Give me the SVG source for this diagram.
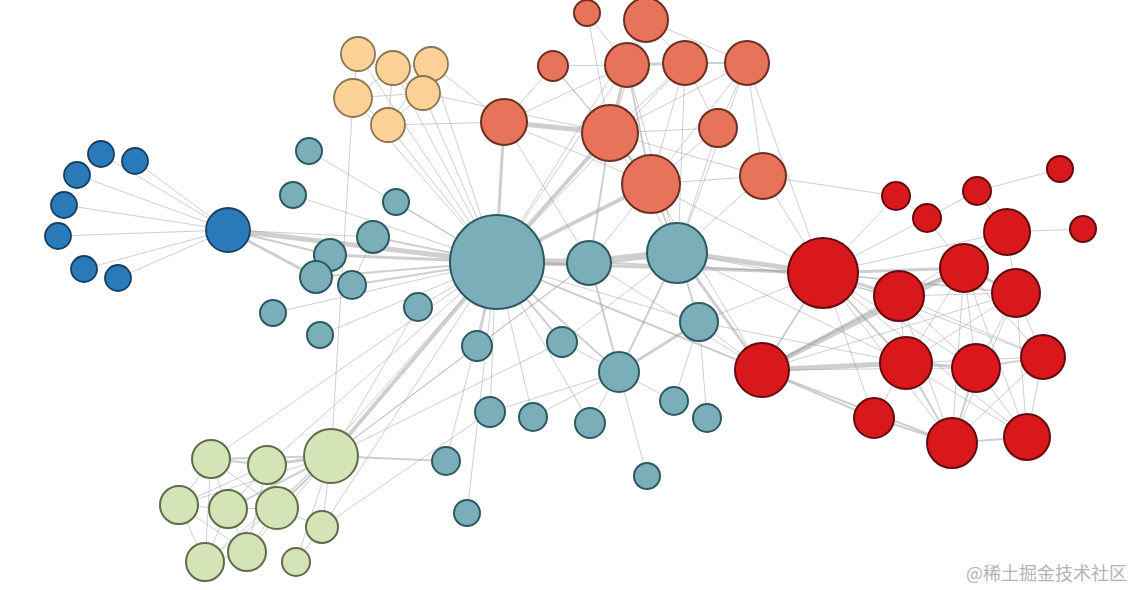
<svg xmlns="http://www.w3.org/2000/svg" width="1134" height="590" viewBox="0 0 1134 590">
<style>
.e{stroke:#9a9a9a;stroke-opacity:.48;fill:none;stroke-linecap:round}
.w1{stroke-width:1}.w2{stroke-width:2}.w3{stroke-width:3}.w4{stroke-width:4}.w5{stroke-width:5}.w7{stroke-width:7}
.bl{fill:#2a7ab9;stroke:#163f62;stroke-width:1.8}
.tn{fill:#fcd197;stroke:#8c7552;stroke-width:1.8}
.sa{fill:#e8735b;stroke:#6e2e22;stroke-width:2}
.te{fill:#7aafba;stroke:#2c5962;stroke-width:2}
.gr{fill:#d4e4b6;stroke:#5f6d4a;stroke-width:2}
.rd{fill:#d8181b;stroke:#640b0d;stroke-width:2}
.wm{font-family:"Noto Sans CJK SC","Noto Sans",sans-serif;font-size:18px;fill:#b4b4b4}
</style>
<rect width="1134" height="590" fill="#fff"/>
<g id="connectors">
<line class="e w1" x1="228" y1="230" x2="101" y2="154"/>
<line class="e w1" x1="228" y1="230" x2="135" y2="161"/>
<line class="e w1" x1="228" y1="230" x2="77" y2="175"/>
<line class="e w1" x1="228" y1="230" x2="64" y2="205"/>
<line class="e w1" x1="228" y1="230" x2="58" y2="236"/>
<line class="e w1" x1="228" y1="230" x2="84" y2="269"/>
<line class="e w1" x1="228" y1="230" x2="118" y2="278"/>
<line class="e w5" x1="228" y1="230" x2="496" y2="262"/>
<line class="e w3" x1="228" y1="230" x2="316" y2="277"/>
<line class="e w2" x1="228" y1="230" x2="330" y2="255"/>
<line class="e w1" x1="228" y1="230" x2="373" y2="237"/>
<line class="e w1" x1="358" y1="54" x2="393" y2="68"/>
<line class="e w1" x1="358" y1="54" x2="353" y2="98"/>
<line class="e w1" x1="358" y1="54" x2="423" y2="93"/>
<line class="e w1" x1="393" y1="68" x2="431" y2="64"/>
<line class="e w1" x1="393" y1="68" x2="423" y2="93"/>
<line class="e w1" x1="393" y1="68" x2="353" y2="98"/>
<line class="e w1" x1="393" y1="68" x2="388" y2="125"/>
<line class="e w1" x1="431" y1="64" x2="423" y2="93"/>
<line class="e w1" x1="431" y1="64" x2="388" y2="125"/>
<line class="e w1" x1="353" y1="98" x2="388" y2="125"/>
<line class="e w1" x1="353" y1="98" x2="423" y2="93"/>
<line class="e w1" x1="423" y1="93" x2="388" y2="125"/>
<line class="e w1" x1="358" y1="54" x2="496" y2="262"/>
<line class="e w1" x1="393" y1="68" x2="496" y2="262"/>
<line class="e w1" x1="431" y1="64" x2="496" y2="262"/>
<line class="e w1" x1="353" y1="98" x2="496" y2="262"/>
<line class="e w1" x1="423" y1="93" x2="496" y2="262"/>
<line class="e w1" x1="388" y1="125" x2="496" y2="262"/>
<line class="e w1" x1="353" y1="98" x2="331" y2="456"/>
<line class="e w1" x1="431" y1="64" x2="504" y2="122"/>
<line class="e w1" x1="423" y1="93" x2="610" y2="133"/>
<line class="e w1" x1="388" y1="125" x2="504" y2="122"/>
<line class="e w1" x1="309" y1="151" x2="496" y2="262"/>
<line class="e w1" x1="293" y1="195" x2="496" y2="262"/>
<line class="e w1" x1="396" y1="202" x2="496" y2="262"/>
<line class="e w2" x1="373" y1="237" x2="496" y2="262"/>
<line class="e w3" x1="330" y1="255" x2="496" y2="262"/>
<line class="e w2" x1="316" y1="277" x2="496" y2="262"/>
<line class="e w2" x1="352" y1="285" x2="496" y2="262"/>
<line class="e w1" x1="330" y1="255" x2="316" y2="277"/>
<line class="e w1" x1="373" y1="237" x2="352" y2="285"/>
<line class="e w1" x1="273" y1="313" x2="496" y2="262"/>
<line class="e w1" x1="320" y1="335" x2="496" y2="262"/>
<line class="e w1" x1="418" y1="307" x2="496" y2="262"/>
<line class="e w2" x1="477" y1="346" x2="496" y2="262"/>
<line class="e w2" x1="562" y1="342" x2="496" y2="262"/>
<line class="e w1" x1="490" y1="412" x2="496" y2="262"/>
<line class="e w1" x1="533" y1="417" x2="496" y2="262"/>
<line class="e w1" x1="590" y1="423" x2="496" y2="262"/>
<line class="e w2" x1="619" y1="372" x2="496" y2="262"/>
<line class="e w1" x1="446" y1="461" x2="496" y2="262"/>
<line class="e w1" x1="467" y1="513" x2="496" y2="262"/>
<line class="e w1" x1="647" y1="476" x2="619" y2="372"/>
<line class="e w1" x1="674" y1="401" x2="619" y2="372"/>
<line class="e w1" x1="707" y1="418" x2="699" y2="322"/>
<line class="e w1" x1="674" y1="401" x2="699" y2="322"/>
<line class="e w1" x1="562" y1="342" x2="619" y2="372"/>
<line class="e w1" x1="590" y1="423" x2="619" y2="372"/>
<line class="e w1" x1="533" y1="417" x2="619" y2="372"/>
<line class="e w1" x1="490" y1="412" x2="619" y2="372"/>
<line class="e w2" x1="619" y1="372" x2="590" y2="262"/>
<line class="e w3" x1="619" y1="372" x2="699" y2="322"/>
<line class="e w2" x1="619" y1="372" x2="678" y2="252"/>
<line class="e w2" x1="699" y1="322" x2="678" y2="252"/>
<line class="e w1" x1="699" y1="322" x2="496" y2="262"/>
<line class="e w1" x1="699" y1="322" x2="762" y2="370"/>
<line class="e w1" x1="699" y1="322" x2="823" y2="273"/>
<line class="e w7" x1="496" y1="262" x2="590" y2="262"/>
<line class="e w7" x1="590" y1="262" x2="678" y2="252"/>
<line class="e w5" x1="678" y1="252" x2="823" y2="273"/>
<line class="e w3" x1="678" y1="252" x2="762" y2="370"/>
<line class="e w3" x1="496" y1="262" x2="823" y2="273"/>
<line class="e w2" x1="496" y1="262" x2="762" y2="370"/>
<line class="e w2" x1="590" y1="262" x2="823" y2="273"/>
<line class="e w1" x1="590" y1="262" x2="762" y2="370"/>
<line class="e w1" x1="562" y1="342" x2="678" y2="252"/>
<line class="e w1" x1="477" y1="346" x2="590" y2="262"/>
<line class="e w1" x1="678" y1="252" x2="899" y2="296"/>
<line class="e w1" x1="678" y1="252" x2="906" y2="363"/>
<line class="e w1" x1="699" y1="322" x2="906" y2="363"/>
<line class="e w4" x1="496" y1="262" x2="331" y2="456"/>
<line class="e w2" x1="331" y1="456" x2="446" y2="461"/>
<line class="e w1" x1="331" y1="456" x2="418" y2="307"/>
<line class="e w1" x1="331" y1="456" x2="477" y2="346"/>
<line class="e w1" x1="331" y1="456" x2="590" y2="262"/>
<line class="e w1" x1="331" y1="456" x2="562" y2="342"/>
<line class="e w1" x1="267" y1="465" x2="496" y2="262"/>
<line class="e w1" x1="277" y1="508" x2="496" y2="262"/>
<line class="e w1" x1="322" y1="527" x2="496" y2="262"/>
<line class="e w1" x1="322" y1="527" x2="490" y2="412"/>
<line class="e w1" x1="296" y1="562" x2="322" y2="527"/>
<line class="e w1" x1="211" y1="459" x2="496" y2="262"/>
<line class="e w2" x1="331" y1="456" x2="211" y2="459"/>
<line class="e w3" x1="331" y1="456" x2="267" y2="465"/>
<line class="e w2" x1="331" y1="456" x2="228" y2="509"/>
<line class="e w2" x1="331" y1="456" x2="277" y2="508"/>
<line class="e w1" x1="331" y1="456" x2="179" y2="505"/>
<line class="e w1" x1="331" y1="456" x2="322" y2="527"/>
<line class="e w1" x1="331" y1="456" x2="205" y2="562"/>
<line class="e w1" x1="331" y1="456" x2="247" y2="552"/>
<line class="e w1" x1="331" y1="456" x2="296" y2="562"/>
<line class="e w2" x1="211" y1="459" x2="267" y2="465"/>
<line class="e w1" x1="211" y1="459" x2="179" y2="505"/>
<line class="e w1" x1="211" y1="459" x2="228" y2="509"/>
<line class="e w1" x1="211" y1="459" x2="277" y2="508"/>
<line class="e w1" x1="211" y1="459" x2="205" y2="562"/>
<line class="e w1" x1="267" y1="465" x2="277" y2="508"/>
<line class="e w1" x1="267" y1="465" x2="228" y2="509"/>
<line class="e w1" x1="267" y1="465" x2="179" y2="505"/>
<line class="e w1" x1="267" y1="465" x2="247" y2="552"/>
<line class="e w1" x1="179" y1="505" x2="228" y2="509"/>
<line class="e w1" x1="179" y1="505" x2="205" y2="562"/>
<line class="e w1" x1="179" y1="505" x2="247" y2="552"/>
<line class="e w1" x1="228" y1="509" x2="277" y2="508"/>
<line class="e w1" x1="228" y1="509" x2="247" y2="552"/>
<line class="e w1" x1="228" y1="509" x2="205" y2="562"/>
<line class="e w1" x1="277" y1="508" x2="247" y2="552"/>
<line class="e w1" x1="277" y1="508" x2="205" y2="562"/>
<line class="e w1" x1="205" y1="562" x2="247" y2="552"/>
<line class="e w1" x1="277" y1="508" x2="322" y2="527"/>
<line class="e w5" x1="504" y1="122" x2="610" y2="133"/>
<line class="e w3" x1="504" y1="122" x2="496" y2="262"/>
<line class="e w4" x1="610" y1="133" x2="496" y2="262"/>
<line class="e w4" x1="651" y1="184" x2="496" y2="262"/>
<line class="e w2" x1="610" y1="133" x2="590" y2="262"/>
<line class="e w1" x1="651" y1="184" x2="590" y2="262"/>
<line class="e w2" x1="651" y1="184" x2="678" y2="252"/>
<line class="e w3" x1="610" y1="133" x2="651" y2="184"/>
<line class="e w3" x1="610" y1="133" x2="627" y2="65"/>
<line class="e w3" x1="627" y1="65" x2="685" y2="63"/>
<line class="e w2" x1="685" y1="63" x2="747" y2="63"/>
<line class="e w1" x1="627" y1="65" x2="646" y2="20"/>
<line class="e w1" x1="646" y1="20" x2="685" y2="63"/>
<line class="e w1" x1="646" y1="20" x2="610" y2="133"/>
<line class="e w1" x1="646" y1="20" x2="747" y2="63"/>
<line class="e w1" x1="587" y1="13" x2="610" y2="133"/>
<line class="e w1" x1="587" y1="13" x2="627" y2="65"/>
<line class="e w1" x1="553" y1="66" x2="610" y2="133"/>
<line class="e w1" x1="553" y1="66" x2="651" y2="184"/>
<line class="e w1" x1="553" y1="66" x2="504" y2="122"/>
<line class="e w1" x1="553" y1="66" x2="627" y2="65"/>
<line class="e w1" x1="718" y1="128" x2="610" y2="133"/>
<line class="e w1" x1="718" y1="128" x2="651" y2="184"/>
<line class="e w1" x1="718" y1="128" x2="685" y2="63"/>
<line class="e w1" x1="718" y1="128" x2="747" y2="63"/>
<line class="e w1" x1="718" y1="128" x2="678" y2="252"/>
<line class="e w1" x1="763" y1="176" x2="651" y2="184"/>
<line class="e w1" x1="763" y1="176" x2="678" y2="252"/>
<line class="e w1" x1="763" y1="176" x2="747" y2="63"/>
<line class="e w1" x1="763" y1="176" x2="823" y2="273"/>
<line class="e w1" x1="763" y1="176" x2="896" y2="196"/>
<line class="e w1" x1="763" y1="176" x2="610" y2="133"/>
<line class="e w1" x1="747" y1="63" x2="610" y2="133"/>
<line class="e w1" x1="747" y1="63" x2="651" y2="184"/>
<line class="e w1" x1="747" y1="63" x2="823" y2="273"/>
<line class="e w1" x1="685" y1="63" x2="651" y2="184"/>
<line class="e w1" x1="685" y1="63" x2="610" y2="133"/>
<line class="e w2" x1="627" y1="65" x2="651" y2="184"/>
<line class="e w1" x1="627" y1="65" x2="504" y2="122"/>
<line class="e w1" x1="504" y1="122" x2="651" y2="184"/>
<line class="e w1" x1="610" y1="133" x2="678" y2="252"/>
<line class="e w1" x1="685" y1="63" x2="678" y2="252"/>
<line class="e w1" x1="627" y1="65" x2="678" y2="252"/>
<line class="e w1" x1="627" y1="65" x2="496" y2="262"/>
<line class="e w1" x1="646" y1="20" x2="496" y2="262"/>
<line class="e w1" x1="685" y1="63" x2="496" y2="262"/>
<line class="e w1" x1="747" y1="63" x2="678" y2="252"/>
<line class="e w1" x1="504" y1="122" x2="590" y2="262"/>
<line class="e w1" x1="651" y1="184" x2="823" y2="273"/>
<line class="e w1" x1="651" y1="184" x2="762" y2="370"/>
<line class="e w1" x1="1060" y1="169" x2="977" y2="191"/>
<line class="e w1" x1="977" y1="191" x2="927" y2="218"/>
<line class="e w1" x1="977" y1="191" x2="1007" y2="232"/>
<line class="e w1" x1="1083" y1="229" x2="1007" y2="232"/>
<line class="e w1" x1="896" y1="196" x2="823" y2="273"/>
<line class="e w1" x1="927" y1="218" x2="823" y2="273"/>
<line class="e w1" x1="927" y1="218" x2="964" y2="268"/>
<line class="e w1" x1="896" y1="196" x2="927" y2="218"/>
<line class="e w1" x1="1007" y1="232" x2="964" y2="268"/>
<line class="e w1" x1="1007" y1="232" x2="1016" y2="293"/>
<line class="e w1" x1="1007" y1="232" x2="899" y2="296"/>
<line class="e w1" x1="1007" y1="232" x2="823" y2="273"/>
<line class="e w3" x1="964" y1="268" x2="823" y2="273"/>
<line class="e w3" x1="899" y1="296" x2="823" y2="273"/>
<line class="e w2" x1="1016" y1="293" x2="823" y2="273"/>
<line class="e w2" x1="906" y1="363" x2="823" y2="273"/>
<line class="e w1" x1="976" y1="368" x2="823" y2="273"/>
<line class="e w1" x1="1043" y1="357" x2="823" y2="273"/>
<line class="e w1" x1="874" y1="418" x2="823" y2="273"/>
<line class="e w1" x1="952" y1="443" x2="823" y2="273"/>
<line class="e w5" x1="762" y1="370" x2="906" y2="363"/>
<line class="e w5" x1="762" y1="370" x2="964" y2="268"/>
<line class="e w3" x1="762" y1="370" x2="899" y2="296"/>
<line class="e w2" x1="762" y1="370" x2="874" y2="418"/>
<line class="e w2" x1="762" y1="370" x2="952" y2="443"/>
<line class="e w1" x1="762" y1="370" x2="976" y2="368"/>
<line class="e w2" x1="762" y1="370" x2="823" y2="273"/>
<line class="e w1" x1="762" y1="370" x2="1016" y2="293"/>
<line class="e w2" x1="899" y1="296" x2="964" y2="268"/>
<line class="e w1" x1="899" y1="296" x2="1016" y2="293"/>
<line class="e w1" x1="899" y1="296" x2="906" y2="363"/>
<line class="e w1" x1="899" y1="296" x2="976" y2="368"/>
<line class="e w1" x1="899" y1="296" x2="1043" y2="357"/>
<line class="e w1" x1="899" y1="296" x2="952" y2="443"/>
<line class="e w3" x1="964" y1="268" x2="1016" y2="293"/>
<line class="e w1" x1="964" y1="268" x2="906" y2="363"/>
<line class="e w1" x1="964" y1="268" x2="976" y2="368"/>
<line class="e w1" x1="964" y1="268" x2="1043" y2="357"/>
<line class="e w1" x1="964" y1="268" x2="952" y2="443"/>
<line class="e w1" x1="964" y1="268" x2="1027" y2="437"/>
<line class="e w1" x1="1016" y1="293" x2="906" y2="363"/>
<line class="e w1" x1="1016" y1="293" x2="976" y2="368"/>
<line class="e w1" x1="1016" y1="293" x2="1043" y2="357"/>
<line class="e w1" x1="1016" y1="293" x2="952" y2="443"/>
<line class="e w1" x1="1016" y1="293" x2="1027" y2="437"/>
<line class="e w3" x1="906" y1="363" x2="976" y2="368"/>
<line class="e w1" x1="906" y1="363" x2="1043" y2="357"/>
<line class="e w2" x1="906" y1="363" x2="952" y2="443"/>
<line class="e w1" x1="906" y1="363" x2="1027" y2="437"/>
<line class="e w1" x1="906" y1="363" x2="874" y2="418"/>
<line class="e w2" x1="976" y1="368" x2="1043" y2="357"/>
<line class="e w2" x1="976" y1="368" x2="952" y2="443"/>
<line class="e w1" x1="976" y1="368" x2="1027" y2="437"/>
<line class="e w1" x1="1043" y1="357" x2="1027" y2="437"/>
<line class="e w1" x1="1043" y1="357" x2="952" y2="443"/>
<line class="e w2" x1="874" y1="418" x2="952" y2="443"/>
<line class="e w2" x1="952" y1="443" x2="1027" y2="437"/>
<line class="e w1" x1="823" y1="273" x2="1027" y2="437"/>
</g>
<g id="n-b1"><circle class="bl" cx="101" cy="154" r="13"/></g>
<g id="n-b2"><circle class="bl" cx="135" cy="161" r="13"/></g>
<g id="n-b3"><circle class="bl" cx="77" cy="175" r="13"/></g>
<g id="n-b4"><circle class="bl" cx="64" cy="205" r="13"/></g>
<g id="n-b5"><circle class="bl" cx="58" cy="236" r="13"/></g>
<g id="n-b6"><circle class="bl" cx="84" cy="269" r="13"/></g>
<g id="n-b7"><circle class="bl" cx="118" cy="278" r="13"/></g>
<g id="n-bh"><circle class="bl" cx="228" cy="230" r="22" stroke-width="2.4"/></g>
<g id="n-t1"><circle class="tn" cx="358" cy="54" r="17"/></g>
<g id="n-t2"><circle class="tn" cx="393" cy="68" r="17"/></g>
<g id="n-t3"><circle class="tn" cx="431" cy="64" r="17"/></g>
<g id="n-t4"><circle class="tn" cx="353" cy="98" r="19"/></g>
<g id="n-t5"><circle class="tn" cx="423" cy="93" r="17"/></g>
<g id="n-t6"><circle class="tn" cx="388" cy="125" r="17"/></g>
<g id="n-s1"><circle class="sa" cx="587" cy="13" r="13"/></g>
<g id="n-s2"><circle class="sa" cx="646" cy="20" r="22"/></g>
<g id="n-s3"><circle class="sa" cx="553" cy="66" r="15"/></g>
<g id="n-s4"><circle class="sa" cx="627" cy="65" r="22"/></g>
<g id="n-s5"><circle class="sa" cx="685" cy="63" r="22"/></g>
<g id="n-s6"><circle class="sa" cx="747" cy="63" r="22"/></g>
<g id="n-s7"><circle class="sa" cx="504" cy="122" r="23"/></g>
<g id="n-s8"><circle class="sa" cx="610" cy="133" r="28"/></g>
<g id="n-s9"><circle class="sa" cx="718" cy="128" r="19"/></g>
<g id="n-s10"><circle class="sa" cx="651" cy="184" r="29"/></g>
<g id="n-s11"><circle class="sa" cx="763" cy="176" r="23"/></g>
<g id="n-a1"><circle class="te" cx="309" cy="151" r="13"/></g>
<g id="n-a2"><circle class="te" cx="293" cy="195" r="13"/></g>
<g id="n-a3"><circle class="te" cx="396" cy="202" r="13"/></g>
<g id="n-a4"><circle class="te" cx="373" cy="237" r="16"/></g>
<g id="n-a5"><circle class="te" cx="330" cy="255" r="16"/></g>
<g id="n-a6"><circle class="te" cx="316" cy="277" r="16"/></g>
<g id="n-a7"><circle class="te" cx="352" cy="285" r="14"/></g>
<g id="n-a8"><circle class="te" cx="273" cy="313" r="13"/></g>
<g id="n-a9"><circle class="te" cx="320" cy="335" r="13"/></g>
<g id="n-a10"><circle class="te" cx="418" cy="307" r="14"/></g>
<g id="n-a11"><circle class="te" cx="477" cy="346" r="15"/></g>
<g id="n-a12"><circle class="te" cx="562" cy="342" r="15"/></g>
<g id="n-a13"><circle class="te" cx="699" cy="322" r="19"/></g>
<g id="n-a14"><circle class="te" cx="619" cy="372" r="20"/></g>
<g id="n-a15"><circle class="te" cx="490" cy="412" r="15"/></g>
<g id="n-a16"><circle class="te" cx="533" cy="417" r="14"/></g>
<g id="n-a17"><circle class="te" cx="590" cy="423" r="15"/></g>
<g id="n-a18"><circle class="te" cx="674" cy="401" r="14"/></g>
<g id="n-a19"><circle class="te" cx="707" cy="418" r="14"/></g>
<g id="n-a20"><circle class="te" cx="446" cy="461" r="14"/></g>
<g id="n-a21"><circle class="te" cx="647" cy="476" r="13"/></g>
<g id="n-a22"><circle class="te" cx="467" cy="513" r="13"/></g>
<g id="n-c1"><circle class="te" cx="589" cy="263" r="22" stroke-width="3"/></g>
<g id="n-c2"><circle class="te" cx="677" cy="253" r="30" stroke-width="3.5"/></g>
<g id="n-V"><circle class="te" cx="497" cy="262" r="47" stroke-width="8" stroke="#2e5961"/></g>
<g id="n-g0"><circle class="gr" cx="331" cy="456" r="27" stroke-width="2.8"/></g>
<g id="n-g1"><circle class="gr" cx="211" cy="459" r="19"/></g>
<g id="n-g2"><circle class="gr" cx="267" cy="465" r="19"/></g>
<g id="n-g3"><circle class="gr" cx="179" cy="505" r="19"/></g>
<g id="n-g4"><circle class="gr" cx="228" cy="509" r="19"/></g>
<g id="n-g5"><circle class="gr" cx="277" cy="508" r="21"/></g>
<g id="n-g6"><circle class="gr" cx="322" cy="527" r="16"/></g>
<g id="n-g7"><circle class="gr" cx="205" cy="562" r="19"/></g>
<g id="n-g8"><circle class="gr" cx="247" cy="552" r="19"/></g>
<g id="n-g9"><circle class="gr" cx="296" cy="562" r="14"/></g>
<g id="n-r1"><circle class="rd" cx="896" cy="196" r="14"/></g>
<g id="n-r2"><circle class="rd" cx="927" cy="218" r="14"/></g>
<g id="n-r3"><circle class="rd" cx="977" cy="191" r="14"/></g>
<g id="n-r4"><circle class="rd" cx="1060" cy="169" r="13"/></g>
<g id="n-r5"><circle class="rd" cx="1083" cy="229" r="13"/></g>
<g id="n-r6"><circle class="rd" cx="1007" cy="232" r="23"/></g>
<g id="n-rh"><circle class="rd" cx="823" cy="273" r="35" stroke-width="3"/></g>
<g id="n-r7"><circle class="rd" cx="899" cy="296" r="25"/></g>
<g id="n-r8"><circle class="rd" cx="964" cy="268" r="24"/></g>
<g id="n-r9"><circle class="rd" cx="1016" cy="293" r="24"/></g>
<g id="n-r10"><circle class="rd" cx="906" cy="363" r="26"/></g>
<g id="n-r11"><circle class="rd" cx="976" cy="368" r="24"/></g>
<g id="n-r12"><circle class="rd" cx="1043" cy="357" r="22"/></g>
<g id="n-r13"><circle class="rd" cx="762" cy="370" r="27" stroke-width="2.4"/></g>
<g id="n-r14"><circle class="rd" cx="874" cy="418" r="20"/></g>
<g id="n-r15"><circle class="rd" cx="952" cy="443" r="25"/></g>
<g id="n-r16"><circle class="rd" cx="1027" cy="437" r="23"/></g>
<text class="wm" x="966" y="580">@稀土掘金技术社区</text>
</svg>
